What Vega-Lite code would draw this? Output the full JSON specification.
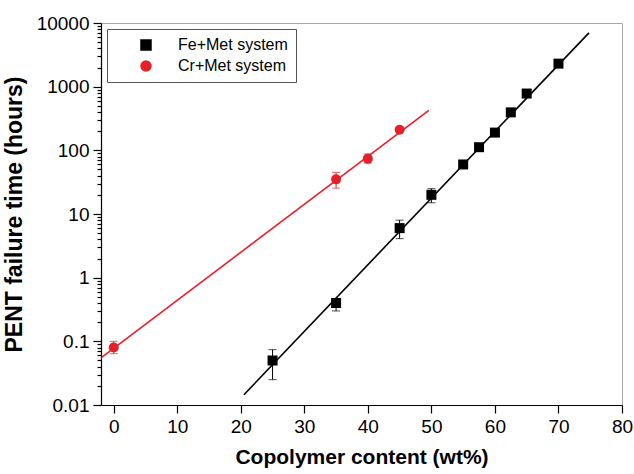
{
  "$schema": "https://vega.github.io/schema/vega-lite/v6.json",
  "width": 521,
  "height": 382,
  "autosize": {"type": "none"},
  "padding": {"left": 101, "top": 23, "right": 12, "bottom": 69},
  "config": {
    "font": "Liberation Sans",
    "view": {"stroke": "#a8a8a8", "strokeWidth": 1},
    "axis": {"grid": false, "ticks": true, "domainColor": "#000000", "tickColor": "#000000", "labelColor": "#000000", "titleColor": "#000000", "domainWidth": 1.2, "tickWidth": 1.2, "tickOpacity": 1, "tickDash": [], "tickOffset": 0, "tickSize": 8},
    "legend": {"disable": false}
  },
  "datasets": {
    "pts": [
      {"series": "Fe+Met system", "x": 25, "y": 0.05},
      {"series": "Fe+Met system", "x": 35, "y": 0.4},
      {"series": "Fe+Met system", "x": 45, "y": 6},
      {"series": "Fe+Met system", "x": 50, "y": 20},
      {"series": "Fe+Met system", "x": 55, "y": 60},
      {"series": "Fe+Met system", "x": 57.5, "y": 112},
      {"series": "Fe+Met system", "x": 60, "y": 190},
      {"series": "Fe+Met system", "x": 62.5, "y": 395},
      {"series": "Fe+Met system", "x": 65, "y": 780},
      {"series": "Fe+Met system", "x": 70, "y": 2300},
      {"series": "Cr+Met system", "x": 0, "y": 0.08},
      {"series": "Cr+Met system", "x": 35, "y": 35},
      {"series": "Cr+Met system", "x": 40, "y": 74},
      {"series": "Cr+Met system", "x": 45, "y": 210}
    ],
    "err": [
      {"series": "Fe+Met system", "x": 25, "lo": 0.025, "hi": 0.074},
      {"series": "Fe+Met system", "x": 35, "lo": 0.3, "hi": 0.47},
      {"series": "Fe+Met system", "x": 45, "lo": 4.1, "hi": 8},
      {"series": "Fe+Met system", "x": 50, "lo": 15, "hi": 25},
      {"series": "Cr+Met system", "x": 0, "lo": 0.064, "hi": 0.1},
      {"series": "Cr+Met system", "x": 35, "lo": 25.5, "hi": 45},
      {"series": "Cr+Met system", "x": 40, "lo": 63, "hi": 88}
    ],
    "fit": [
      {"series": "Fe+Met system", "x": 20.5, "y": 0.0145},
      {"series": "Fe+Met system", "x": 74.8, "y": 7000},
      {"series": "Cr+Met system", "x": -2, "y": 0.055},
      {"series": "Cr+Met system", "x": 49.6, "y": 425}
    ]
  },
  "layer": [
    {
      "data": {"name": "pts"},
      "mark": {"type": "point", "filled": true, "opacity": 1, "size": 100},
      "encoding": {
        "x": {"field": "x", "type": "quantitative", "scale": {"domain": [-2, 80], "nice": false, "zero": false},
          "axis": {"orient": "bottom", "ticks": true, "tickColor": "#000000", "tickOpacity": 1, "tickWidth": 1.2, "tickDash": [], "tickOffset": 0, "tickExtra": false,
            "values": [0, 5, 10, 15, 20, 25, 30, 35, 40, 45, 50, 55, 60, 65, 70, 75, 80],
            "labelExpr": "datum.value % 10 === 0 ? datum.label : ''",
            "tickSize": {"condition": {"test": "datum.value % 10 === 0", "value": 8}, "value": 5},
            "labelFontSize": 19, "labelPadding": 4, "title": "Copolymer content (wt%)", "titleFontSize": 21, "titleFontWeight": "bold", "titlePadding": 10, "labelFlush": false, "labelOverlap": false}},
        "y": {"field": "y", "type": "quantitative", "scale": {"type": "log", "domain": [0.01, 10000], "nice": false},
          "axis": {"orient": "left", "ticks": true, "tickColor": "#000000", "tickOpacity": 1, "tickWidth": 1.2, "tickDash": [], "tickOffset": 0, "tickExtra": false,
            "values": [0.01, 0.02, 0.03, 0.04, 0.05, 0.06, 0.07, 0.08, 0.09, 0.1, 0.2, 0.3, 0.4, 0.5, 0.6, 0.7, 0.8, 0.9, 1, 2, 3, 4, 5, 6, 7, 8, 9, 10, 20, 30, 40, 50, 60, 70, 80, 90, 100, 200, 300, 400, 500, 600, 700, 800, 900, 1000, 2000, 3000, 4000, 5000, 6000, 7000, 8000, 9000, 10000],
            "labelExpr": "abs(log(datum.value)/LN10 - round(log(datum.value)/LN10)) < 0.000001 ? (datum.value >= 1 ? format(datum.value, 'd') : format(datum.value, '.2~f')) : ''",
            "tickSize": {"condition": {"test": "abs(log(datum.value)/LN10 - round(log(datum.value)/LN10)) < 0.000001", "value": 8}, "value": 4},
            "labelFontSize": 19, "labelPadding": 4, "title": "PENT failure time (hours)", "titleFontSize": 23, "titleFontWeight": "bold", "titlePadding": 10, "labelFlush": false, "labelOverlap": false}},
        "color": {"field": "series", "type": "nominal",
          "scale": {"domain": ["Fe+Met system", "Cr+Met system"], "range": ["#000000", "#e5202a"]},
          "legend": {"disable": false, "title": null, "orient": "none", "legendX": 6, "legendY": 6, "strokeColor": "#555555", "padding": 8, "labelFontSize": 16, "labelColor": "#000000", "labelOpacity": 1, "symbolOpacity": 1, "symbolSize": 100, "rowPadding": 5, "symbolOffset": 23, "labelOffset": 24, "symbolType": "square"}},
        "shape": {"field": "series", "type": "nominal",
          "scale": {"domain": ["Fe+Met system", "Cr+Met system"], "range": ["square", "circle"]},
          "legend": {"disable": false, "title": null, "orient": "none", "legendX": 6, "legendY": 6, "strokeColor": "#555555", "padding": 8, "labelFontSize": 16, "labelColor": "#000000", "labelOpacity": 1, "symbolOpacity": 1, "symbolSize": 100, "rowPadding": 5, "symbolOffset": 23, "labelOffset": 24}}
      }
    },
    {
      "data": {"name": "fit"},
      "mark": {"type": "line", "strokeWidth": 1.6},
      "encoding": {
        "x": {"field": "x", "type": "quantitative"},
        "y": {"field": "y", "type": "quantitative"},
        "stroke": {"field": "series", "type": "nominal", "legend": null,
          "scale": {"domain": ["Fe+Met system", "Cr+Met system"], "range": ["#000000", "#e5202a"]}},
        "detail": {"field": "series"}
      }
    },
    {
      "data": {"name": "err"},
      "mark": {"type": "rule", "strokeWidth": 1},
      "encoding": {
        "x": {"field": "x", "type": "quantitative"},
        "y": {"field": "lo", "type": "quantitative"},
        "y2": {"field": "hi"},
        "stroke": {"field": "series", "type": "nominal", "legend": null}
      }
    },
    {
      "data": {"name": "err"},
      "mark": {"type": "tick", "orient": "horizontal", "size": 8, "thickness": 1},
      "encoding": {
        "x": {"field": "x", "type": "quantitative"},
        "y": {"field": "lo", "type": "quantitative"},
        "fill": {"field": "series", "type": "nominal", "legend": null,
          "scale": {"domain": ["Fe+Met system", "Cr+Met system"], "range": ["#000000", "#e5202a"]}}
      }
    },
    {
      "data": {"name": "err"},
      "mark": {"type": "tick", "orient": "horizontal", "size": 8, "thickness": 1},
      "encoding": {
        "x": {"field": "x", "type": "quantitative"},
        "y": {"field": "hi", "type": "quantitative"},
        "fill": {"field": "series", "type": "nominal", "legend": null}
      }
    }
  ]
}
